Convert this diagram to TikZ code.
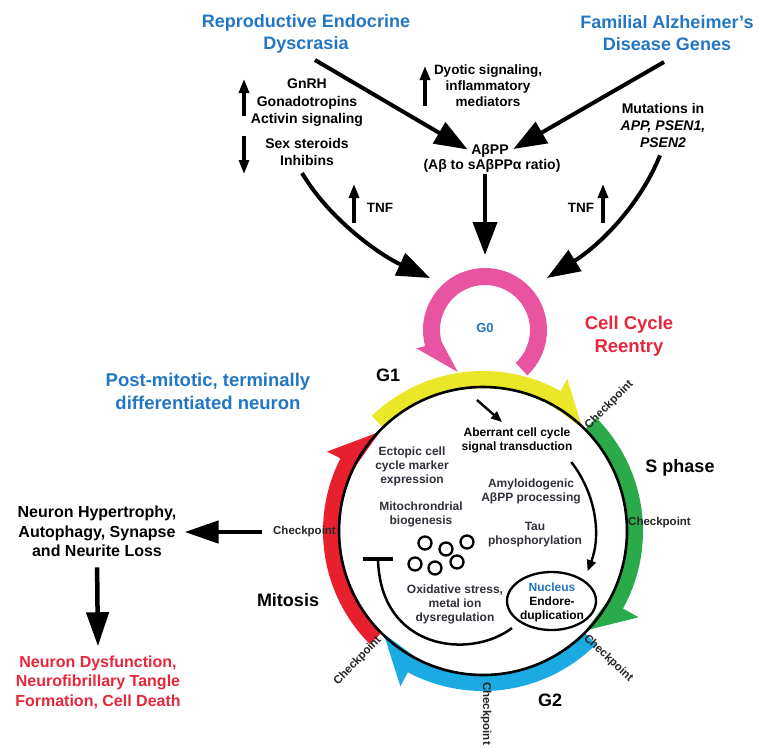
\documentclass[tikz,border=0pt]{standalone}
\usepackage{fontspec}
\setmainfont{Liberation Sans}
\usetikzlibrary{arrows.meta,calc,shapes.geometric}
\definecolor{tblue}{RGB}{34,118,196}
\definecolor{tred}{RGB}{230,38,58}
\definecolor{bpink}{RGB}{232,84,160}
\definecolor{byellow}{RGB}{234,230,40}
\definecolor{bgreen}{RGB}{42,170,72}
\definecolor{bcyan}{RGB}{28,170,226}
\definecolor{bred}{RGB}{232,32,46}
\definecolor{itext}{RGB}{48,48,58}
% #1 colour, #2 centre, #3 start angle, #4 head angle, #5 tip angle, #6 inner r, #7 outer r, #8 barb r, #9 tip r
\newcommand{\cycband}[9]{%
  \fill[#1] ($(#2)+(#3:#6pt)$) arc[start angle=#3, end angle=#4, radius=#6pt]
    -- ($(#2)+(#5:#9pt)$) -- ($(#2)+(#4:#8pt)$) -- ($(#2)+(#4:#7pt)$)
    arc[start angle=#4, end angle=#3, radius=#7pt] -- cycle;}
\begin{document}
\begin{tikzpicture}[x=1pt,y=-1pt,
  every node/.style={inner sep=1pt, align=center},
  title/.style={font=\fontsize{18}{22}\selectfont\bfseries, text=tblue},
  redtitle/.style={font=\fontsize{18.5}{23}\selectfont\bfseries, text=tred},
  lbl/.style={font=\fontsize{14}{17.5}\selectfont\bfseries},
  tnf/.style={font=\fontsize{13.5}{16}\selectfont\bfseries},
  phase/.style={font=\fontsize{18}{22}\selectfont\bfseries},
  nlbl/.style={font=\fontsize{16}{19.5}\selectfont\bfseries},
  inl/.style={font=\fontsize{12}{14}\selectfont\bfseries, text=itext},
  ck/.style={font=\fontsize{11.5}{13}\selectfont\bfseries, text=black!85},
  big/.style={line width=4pt, -{Triangle[length=33pt,width=24pt]}},
  bigL/.style={line width=4.5pt, -{Triangle[length=34pt,width=22pt]}},
  small/.style={line width=3.2pt, -{Triangle[length=14pt,width=10pt]}},
  inarr/.style={line width=2.4pt, -{Triangle[length=11pt,width=9pt]}}
]
\useasboundingbox (0,0) rectangle (759,747);

% centres
\coordinate (C) at (483,531);
\coordinate (G) at (485,330);

% ---------- top texts ----------
\node[title] (repro) at (306,33.4) {Reproductive Endocrine\\Dyscrasia};
\node[title] (fam) at (667,33) {Familial Alzheimer's\\Disease Genes};
\node[lbl] (gnrh) at (307,103) {GnRH\\Gonadotropins\\Activin signaling};
\node[lbl] (sex) at (307,152) {Sex steroids\\Inhibins};
\node[lbl, font=\fontsize{13.5}{16}\selectfont\bfseries] (dyo) at (488,86) {Dyotic signaling,\\inflammatory\\mediators};
\node[lbl] (abppA) at (490,151) {AβPP};
\node[lbl] (abppB) at (492,166) {(Aβ to sAβPPα ratio)};
\node[lbl, font=\fontsize{14}{17}\selectfont\bfseries] (mut) at (663,125) {Mutations in\\\textit{APP, PSEN1,}\\\textit{PSEN2}};
\node[tnf] (tnfL) at (380,208) {TNF};
\node[tnf] (tnfR) at (581,208) {TNF};

% small indicator arrows
\coordinate (u1a) at (244,116); \coordinate (u1b) at (244,79);
\coordinate (d1a) at (244,136); \coordinate (d1b) at (244,174);
\coordinate (u2a) at (425,106); \coordinate (u2b) at (425,66);
\coordinate (u3a) at (354,223); \coordinate (u3b) at (354,184);
\coordinate (u4a) at (603,223); \coordinate (u4b) at (603,184);
\draw[small] (u1a) -- (u1b);
\draw[small] (d1a) -- (d1b);
\draw[small] (u2a) -- (u2b);
\draw[small] (u3a) -- (u3b);
\draw[small] (u4a) -- (u4b);

% ---------- G0 loop ----------
\node[font=\fontsize{13}{15}\selectfont\bfseries, text=tblue] (g0) at (485,328) {G0};
\cycband{bpink}{G}{-47}{195}{237}{45}{62}{71}{50}

% big arrows into G0
\coordinate (reproS) at (315,60);
\coordinate (famS) at (664,62);
\coordinate (tipL) at (430,278);
\coordinate (tipR) at (547,278);
\draw[big, shorten >=3pt] (reproS) -- (abppA.west);
\draw[big, shorten >=4pt] (famS) -- (abppA.east);
\draw[big] (abppB.south -| g0) -- ($(g0)+(0,-73)$);
\draw[big] ($(sex.south)+(-5,6)$) .. controls (330,220) and (380,255) .. (tipL);
\draw[big] ($(mut.south)+(-3,7)$) .. controls (640,205) and (600,245) .. (tipR);

% ---------- cell cycle ring ----------
\cycband{bred}{C}{225}{153}{136}{143}{160}{175}{143}
\cycband{byellow}{C}{134}{61}{46}{143}{160}{174}{143}
\cycband{bgreen}{C}{45}{-29}{-44}{143}{160}{178}{143}
\cycband{bcyan}{C}{-45}{-118}{-134}{143}{160}{176}{143}
\draw[line width=2.6pt] (C) circle[radius=144pt];

\node[redtitle] (reentry) at (629,336) {Cell Cycle\\Reentry};
\node[title, font=\fontsize{18.5}{23}\selectfont\bfseries] (post) at (208,391) {Post-mitotic, terminally\\differentiated neuron};
\node[phase] (g1) at (388,375.5) {G1};
\node[phase] (sph) at (680,467.5) {S phase};
\node[phase] (mitosis) at (288,600.5) {Mitosis};
\node[phase] (g2) at (550,700.5) {G2};

% checkpoints
\node[ck, rotate=45, anchor=west] (ckA) at ($(C)+(45:146pt)$) {Checkpoint};
\node[ck, anchor=west] (ckB) at (627,523) {Checkpoint};
\node[ck, rotate=-43, anchor=west] (ckC) at ($(C)+(-46:146pt)$) {Checkpoint};
\node[ck, rotate=-90, anchor=west] (ckD) at (486,681) {Checkpoint};
\node[ck, rotate=46, anchor=east] (ckE) at ($(C)+(-134:148pt)$) {Checkpoint};
\node[ck, anchor=east] (ckF) at (337,532) {Checkpoint};

% ---------- left side ----------
\node[nlbl] (neuron) at (97,531.7) {Neuron Hypertrophy,\\Autophagy, Synapse\\and Neurite Loss};
\node[nlbl, text=tred] (dysf) at (98,682) {Neuron Dysfunction,\\Neurofibrillary Tangle\\Formation, Cell Death};
\draw[bigL, shorten <=10pt, shorten >=7pt] (ckF.west) -- (ckF.west -| neuron.east);
\draw[bigL, shorten <=9pt, shorten >=8pt] (neuron.south) -- (dysf.north);

% ---------- interior ----------
\node[inl, text=black] (aberr) at (517,440) {Aberrant cell cycle\\signal transduction};
\node[inl] (ecto) at (412,466) {Ectopic cell\\cycle marker\\expression};
\node[inl] (mito) at (421,514.5) {Mitochrondrial\\biogenesis};
\node[inl] (amyl) at (531,491.5) {Amyloidogenic\\AβPP processing};
\node[inl] (tau) at (535,534.5) {Tau\\phosphorylation};
\node[draw, ellipse, line width=2.3pt, minimum width=89pt, minimum height=58pt, inner sep=0pt] (nuc) at (551.5,601) {};
\node[inl, text=black] (nuctxt) at (552,602) {{\color{tblue}Nucleus}\\Endore-\\duplication};
\node[inl] (oxid) at (455,604.5) {Oxidative stress,\\metal ion\\dysregulation};

\coordinate (ab1) at (477,400);
\coordinate (ab2) at (502,422);
\draw[inarr] (ab1) -- (ab2);
\draw[inarr] ($(C)+(38:112pt)$) arc[start angle=38, end angle=-21, radius=112pt];

\coordinate (tb) at (378,559);
\draw[line width=4pt] ($(tb)+(-15,0)$) -- ($(tb)+(15,0)$);
\draw[line width=2.5pt] (tb) .. controls (380,650) and (470,660) .. (512,628);

\foreach \p in {(425,543),(446,549),(467,542),(415,564),(435,568),(457,562)}
  \draw[line width=2.3pt] \p circle[radius=6.5pt];
\end{tikzpicture}
\end{document}
